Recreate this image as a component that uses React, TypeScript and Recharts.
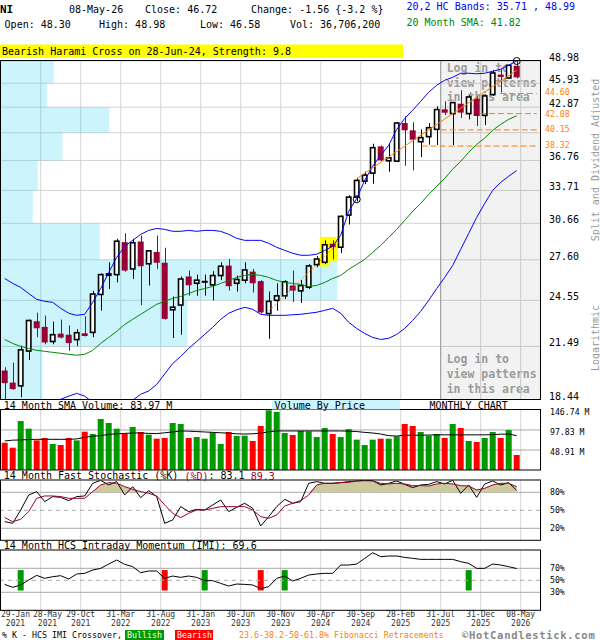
import React from 'react';
import {
  ComposedChart, Bar, Line, Area, XAxis, YAxis, CartesianGrid,
  ReferenceArea, ReferenceLine, ReferenceDot, Cell,
} from 'recharts';

const FONT = '"DejaVu Sans Mono", "Liberation Mono", monospace';

// ---------------- data (monthly, Jan 2021 .. May 2026) ----------------
const opens = [20.05, 19.36, 19.18, 21.21, 23.11, 22.74, 21.80, 22.30, 22.23, 21.92, 22.32, 22.38, 24.97, 26.39, 26.44, 29.04, 26.88, 29.09, 27.28, 28.23, 27.36, 23.89, 24.22, 26.30, 25.79, 25.90, 25.67, 26.37, 27.14, 25.79, 26.02, 26.67, 25.95, 23.63, 24.55, 24.87, 25.62, 25.23, 25.50, 27.21, 27.40, 28.90, 28.62, 31.40, 33.07, 34.63, 35.44, 38.28, 36.72, 36.69, 40.95, 40.10, 38.80, 39.37, 40.21, 42.60, 42.08, 43.30, 42.08, 43.93, 41.86, 44.46, 47.10, 46.64, 48.30];
const highs = [20.24, 20.51, 21.54, 23.22, 23.69, 23.49, 23.09, 23.22, 22.83, 22.59, 23.45, 25.23, 26.54, 27.40, 29.32, 29.79, 29.32, 29.60, 28.36, 29.60, 28.57, 24.82, 26.30, 26.75, 26.44, 26.44, 26.70, 27.40, 27.65, 26.37, 27.40, 26.88, 26.02, 25.18, 25.79, 26.02, 26.75, 26.02, 27.26, 27.89, 29.19, 29.19, 31.37, 33.26, 34.93, 35.59, 38.58, 38.39, 38.63, 41.05, 41.75, 41.05, 40.21, 40.95, 42.98, 43.60, 43.50, 45.02, 44.37, 44.28, 44.46, 47.69, 47.82, 48.48, 48.98];
const lows = [18.40, 18.96, 18.56, 20.66, 22.07, 21.63, 21.63, 22.00, 21.22, 21.52, 22.12, 22.07, 23.83, 25.37, 25.86, 26.67, 26.11, 24.22, 25.62, 26.88, 23.22, 22.02, 22.23, 24.88, 24.88, 24.88, 24.55, 26.02, 25.25, 25.18, 25.79, 25.11, 23.63, 21.97, 23.83, 24.64, 24.43, 24.37, 25.37, 27.01, 27.26, 27.63, 28.13, 30.56, 32.66, 34.33, 34.37, 36.68, 35.59, 36.58, 36.20, 35.72, 37.12, 38.47, 38.43, 41.90, 38.43, 41.56, 41.39, 40.60, 40.70, 44.28, 44.72, 46.56, 46.58];
const closes = [19.33, 19.00, 21.28, 23.16, 22.65, 21.74, 22.23, 22.05, 21.70, 22.36, 22.15, 25.00, 26.44, 26.50, 29.12, 26.75, 28.99, 27.09, 28.32, 27.36, 23.27, 24.07, 26.11, 25.64, 26.02, 25.90, 26.37, 27.09, 25.57, 26.07, 26.80, 25.79, 23.71, 24.48, 24.87, 25.90, 25.25, 25.62, 27.11, 27.66, 28.82, 28.62, 31.28, 33.07, 34.70, 35.24, 38.14, 36.77, 37.04, 40.95, 40.10, 39.03, 39.26, 40.40, 42.57, 42.19, 43.44, 42.20, 44.15, 41.79, 44.28, 47.32, 46.77, 48.38, 46.72];
const volumes = [66.8, 54.6, 119.8, 101.1, 72.5, 78.2, 63.6, 61.1, 78.2, 72.5, 93.7, 88.0, 124.7, 114.9, 101.1, 88.8, 105.1, 92.9, 86.4, 76.6, 78.2, 114.9, 112.5, 78.2, 80.7, 76.6, 91.3, 63.6, 92.9, 83.1, 83.9, 70.9, 107.6, 146.0, 141.8, 90.5, 85.6, 95.4, 94.5, 80.7, 102.7, 88.0, 80.7, 100.2, 74.2, 61.1, 74.2, 76.6, 76.6, 82.3, 112.5, 107.6, 92.9, 83.9, 88.0, 78.2, 112.5, 102.7, 70.9, 68.5, 78.2, 92.9, 78.2, 97.8, 36.7];
const volSma14 = [71, 73, 73.5, 74.5, 75, 75, 75, 75, 75, 76, 80, 82.5, 84, 87, 88.5, 89.5, 90.5, 90.5, 89.5, 89, 91, 93, 95.5, 95, 94, 93, 92, 91, 90, 88.5, 88, 88.5, 90, 93.5, 95.5, 95.5, 95.5, 95.5, 95.5, 95.5, 95.5, 95.5, 95.5, 95, 94, 92, 90.5, 88, 84, 83, 85, 85, 85, 85.5, 86, 86, 86, 86, 86, 86, 86, 86.5, 87.5, 88, 84];
const bbUpper = [26.15, 25.78, 25.48, 25.04, 24.62, 24.48, 24.41, 23.99, 23.65, 23.51, 23.58, 24.41, 25.40, 26.60, 27.79, 28.69, 29.19, 29.70, 30.04, 30.21, 30.13, 29.96, 29.96, 30.04, 29.96, 30.04, 30.04, 29.96, 29.70, 29.36, 29.19, 29.19, 29.19, 28.94, 28.61, 28.36, 28.12, 27.96, 27.96, 28.04, 28.36, 28.69, 29.62, 31.74, 32.95, 34.71, 36.15, 37.30, 38.40, 40.20, 41.50, 42.50, 43.60, 44.75, 45.67, 46.33, 46.73, 47.28, 47.28, 47.21, 47.28, 47.55, 47.83, 48.38, 48.99];
const bbLower = [17.5, 17.3, 17.2, 17.4, 17.8, 18.1, 18.3, 18.45, 18.62, 18.77, 18.62, 18.3, 17.8, 17.5, 17.5, 17.9, 18.4, 18.72, 18.9, 19.26, 19.85, 20.46, 20.88, 21.37, 21.8, 22.25, 22.71, 23.24, 23.65, 23.89, 24.06, 23.92, 23.58, 23.51, 23.51, 23.51, 23.55, 23.58, 23.65, 23.72, 23.85, 23.99, 23.65, 23.04, 22.64, 22.31, 22.06, 21.93, 22.00, 22.25, 22.64, 23.17, 23.78, 24.55, 25.40, 26.23, 27.15, 28.44, 29.78, 31.19, 32.47, 33.72, 34.51, 35.12, 35.71];
const sma20 = [21.93, 21.68, 21.49, 21.37, 21.25, 21.19, 21.13, 21.07, 21.01, 20.95, 21.01, 21.25, 21.68, 22.06, 22.45, 22.90, 23.24, 23.58, 23.92, 24.27, 24.48, 24.69, 24.83, 25.04, 25.26, 25.40, 25.55, 25.78, 26.00, 26.23, 26.38, 26.46, 26.38, 26.23, 26.00, 25.85, 25.78, 25.70, 25.55, 25.63, 25.85, 26.15, 26.38, 26.85, 27.23, 27.63, 28.19, 28.77, 29.44, 30.13, 30.92, 31.74, 32.47, 33.33, 34.11, 34.91, 35.83, 36.66, 37.63, 38.51, 39.21, 40.10, 40.80, 41.39, 41.82];
const stochK = [31.1, 28.3, 50.5, 75.5, 81.1, 64.4, 72.8, 71.6, 66.1, 72.8, 73.9, 95.0, 100, 92.2, 97.8, 75.5, 89.4, 71.1, 82.8, 72.8, 28.3, 33.9, 56.1, 47.8, 51.6, 50.5, 58.9, 67.2, 47.8, 55.0, 61.7, 53.3, 23.9, 39.4, 56.1, 68.3, 61.7, 64.4, 95.0, 97.8, 95.0, 95.0, 96.1, 97.8, 98.9, 100, 99.4, 92.2, 95.0, 98.9, 93.3, 87.8, 92.2, 93.3, 97.8, 93.9, 100, 78.3, 92.2, 71.6, 93.9, 98.9, 92.2, 96.1, 83.1];
const stochD = [37.8, 31.1, 35.0, 47.8, 70.0, 73.9, 73.9, 72.8, 70.0, 70.0, 70.0, 81.1, 92.2, 96.1, 95.0, 89.4, 85.0, 81.1, 78.3, 73.9, 58.9, 45.0, 37.8, 45.0, 50.5, 50.5, 53.3, 56.1, 56.1, 56.1, 56.1, 50.5, 39.4, 36.6, 42.2, 57.2, 61.7, 66.1, 75.5, 92.2, 95.0, 95.0, 96.1, 96.6, 98.9, 99.4, 98.9, 95.0, 93.9, 95.0, 93.9, 91.1, 91.1, 90.5, 93.9, 95.0, 93.9, 91.1, 90.5, 83.9, 86.7, 92.2, 95.0, 95.0, 89.3];
const imiValues = [43.2, 38.3, 42.2, 50.5, 58.2, 53.3, 56.0, 57.7, 52.1, 60.5, 61.6, 67.1, 69.9, 77.1, 83.8, 76.6, 72.7, 62.7, 65.5, 65.5, 53.3, 57.1, 54.9, 57.1, 54.9, 49.4, 49.4, 44.9, 40.5, 43.8, 43.2, 42.2, 36.0, 39.4, 53.3, 57.1, 48.8, 53.3, 58.8, 60.5, 61.6, 61.6, 75.5, 75.5, 77.1, 86.6, 96.0, 89.4, 90.5, 90.5, 88.2, 86.6, 84.9, 84.9, 84.9, 84.9, 84.9, 81.0, 78.2, 69.9, 69.9, 77.1, 75.5, 72.7, 69.6];

const priceTicks = [18.44, 21.49, 24.55, 27.60, 30.66, 33.71, 36.76, 39.82, 42.87, 45.93, 48.98];
const vbpVolume = [7.7, 34.6, 62.4, 18.3, 5.9, 6.8, 11.4, 20.1, 8.5, 9.8]; // % of panel width per price band, bottom -> top
const fibLevels = [44.60, 42.08, 40.15, 38.32];
const fibStart = [61.9, 59.4, 54.5, 52.1];
const fibEnd = 66.5;
const volTicks = [48.91, 97.83, 146.74];
const stochTicks = [20, 50, 80];
const imiTicks = [30, 50, 70];
const dateLabels = [
  { idx: 0, d: '29-Jan', y: '2021' }, { idx: 4, d: '28-May', y: '2021' }, { idx: 9, d: '29-Oct', y: '2021' },
  { idx: 14, d: '31-Mar', y: '2022' }, { idx: 19, d: '31-Aug', y: '2022' }, { idx: 24, d: '31-Jan', y: '2023' },
  { idx: 29, d: '30-Jun', y: '2023' }, { idx: 34, d: '30-Nov', y: '2023' }, { idx: 39, d: '30-Apr', y: '2024' },
  { idx: 44, d: '30-Sep', y: '2024' }, { idx: 49, d: '28-Feb', y: '2025' }, { idx: 54, d: '31-Jul', y: '2025' },
  { idx: 59, d: '31-Dec', y: '2025' }, { idx: 64, d: '08-May', y: '2026' },
];
const imiSignals = [
  { idx: 2, kind: 'bull' }, { idx: 20, kind: 'bear' }, { idx: 25, kind: 'bull' },
  { idx: 32, kind: 'bear' }, { idx: 35, kind: 'bull' }, { idx: 58, kind: 'bull' },
];
const patternCandles = [40, 41];
const trendLines = [
  { from: 33, fromPrice: 23.78, to: 42, toPrice: 29.15, dash: '2 2' },
  { from: 44, fromPrice: 34.88, to: 64, toPrice: 47.69, dash: undefined },
];
const pivotMarks = [{ idx: 44, price: 32.86 }, { idx: 64, price: 48.98 }];

// ---------------- styling constants ----------------
const X_DOMAIN: [number, number] = [-0.4625, 66.9125];
const RED_CANDLE = '#990033';
const GREEN = '#009900';
const RED = '#ff0000';
const KHAKI = '#cdca9e';
const ORANGE = '#ff8000';
const SIGNAL_SPAN = [33, 67];
const GRID_LIGHT = '#d4d4d4';
const GRID_DARK = '#a8a8a8';
const FIB_LABEL_DY = [-1.5, 0.4, -1.3, -1.3];

const sigMap = new Map(imiSignals.map((s) => [s.idx, s.kind]));
const rows = opens.map((o, i) => ({
  i,
  open: o, high: highs[i], low: lows[i], close: closes[i],
  range: [lows[i], highs[i]],
  up: closes[i] >= o,
  vol: volumes[i], volSma: volSma14[i],
  bbU: bbUpper[i], bbL: bbLower[i], sma: sma20[i],
  k: stochK[i], d: stochD[i], dShade: Math.max(stochD[i], 80),
  imi: imiValues[i],
  sig: sigMap.has(i) ? SIGNAL_SPAN : null,
  sigKind: sigMap.get(i) || null,
}));

const vGridIdx = dateLabels.slice(1).map((d) => d.idx + 0.5);
const dateTicks = dateLabels.map((d) => d.idx + 0.5);
const loginStart = dateLabels[11].idx + 0.5;
const xSpan = X_DOMAIN[1] - X_DOMAIN[0];
const vbpToX = (pct: number) => X_DOMAIN[0] + (pct / 100) * xSpan;

const mainAxisTicks = priceTicks
  .filter((t) => !fibLevels.some((f) => Math.abs(Math.log(t / f)) < 0.012))
  .concat(fibLevels);

// ---------------- shapes & ticks ----------------
const Candle = (props: any) => {
  const { x, y, width, height, payload } = props;
  if (!payload || x == null || y == null || !isFinite(height)) return <g />;
  const top = Math.min(y, y + height);
  const h = Math.abs(height);
  const lh = Math.log(payload.high);
  const ll = Math.log(payload.low);
  const py = (v: number) => top + (h * (lh - Math.log(v))) / (lh - ll);
  const cx = Math.round(x + width / 2) + 0.5;
  const bodyTop = py(Math.max(payload.open, payload.close));
  const bodyBot = py(Math.min(payload.open, payload.close));
  if (payload.open === payload.close) {
    return (
      <g>
        <line x1={cx} x2={cx} y1={top} y2={top + h} stroke="#000" strokeWidth={1} />
        <rect x={x} y={bodyTop - 1} width={width} height={2} fill="#000" />
      </g>
    );
  }
  if (payload.up) {
    return (
      <g>
        <line x1={cx} x2={cx} y1={top} y2={bodyTop} stroke="#000" strokeWidth={1} />
        <line x1={cx} x2={cx} y1={bodyBot} y2={top + h} stroke="#000" strokeWidth={1} />
        <rect x={x + 0.8} y={bodyTop} width={width - 1.6} height={Math.max(bodyBot - bodyTop, 0.6)} fill="#fff" stroke="#000" strokeWidth={1.6} />
      </g>
    );
  }
  return (
    <g>
      <line x1={cx} x2={cx} y1={top} y2={top + h} stroke={RED_CANDLE} strokeWidth={1} />
      <rect x={x} y={bodyTop} width={width} height={Math.max(bodyBot - bodyTop, 1.2)} fill={RED_CANDLE} />
    </g>
  );
};

const SignalBar = (p: any) => {
  if (!p || !p.payload || !p.payload.sigKind || p.y == null) return <g />;
  return (
    <rect x={p.x} y={Math.min(p.y, p.y + p.height)} width={p.width} height={Math.abs(p.height)}
      fill={p.payload.sigKind === 'bull' ? GREEN : RED} />
  );
};

const PriceTick = (p: any) => {
  const v = p.payload && p.payload.value;
  if (v == null) return <g />;
  const fk = fibLevels.indexOf(v);
  if (fk >= 0) {
    return <text x={545} y={p.y + FIB_LABEL_DY[fk]} fontSize={8.2} fill={ORANGE} fontFamily={FONT} dominantBaseline="central">{v.toFixed(2)}</text>;
  }
  return <text x={549} y={p.y - 3.5} fontSize={10} fill="#000" fontFamily={FONT} dominantBaseline="central">{v.toFixed(2)}</text>;
};

const VolTick = (p: any) => {
  const v = p.payload && p.payload.value;
  if (v == null) return <g />;
  return <text x={550} y={p.y + 1.7} fontSize={8.2} fill="#000" fontFamily={FONT} dominantBaseline="central">{`${v.toFixed(2)} M`}</text>;
};

const PctTick = (p: any) => {
  const v = p.payload && p.payload.value;
  if (v == null) return <g />;
  return <text x={550} y={p.y} fontSize={8.2} fill="#000" fontFamily={FONT} dominantBaseline="central">{`${v}%`}</text>;
};

const DateTick = (p: any) => {
  const v = p.payload && p.payload.value;
  const k = dateLabels.findIndex((d) => d.idx + 0.5 === v);
  if (k < 0) return <g />;
  const cx = Math.max(p.x, 15.5 + 32 * k);
  return (
    <g fontFamily={FONT} fontSize={8} fill="#333">
      <text x={cx} y={69} textAnchor="middle" dominantBaseline="central">{dateLabels[k].d}</text>
      <text x={cx} y={78.5} textAnchor="middle" dominantBaseline="central">{dateLabels[k].y}</text>
    </g>
  );
};

// ---------------- charts ----------------
function MainChart() {
  return (
    <ComposedChart width={600} height={400} data={rows} margin={{ top: 61, right: 0, bottom: 0.5, left: 1 }}>
      <CartesianGrid stroke={GRID_LIGHT} horizontalValues={priceTicks} verticalValues={vGridIdx} />
      <XAxis dataKey="i" type="number" domain={X_DOMAIN} hide allowDataOverflow />
      <YAxis orientation="right" width={60} scale="log" type="number"
        domain={[priceTicks[0], priceTicks[priceTicks.length - 1]]} allowDataOverflow
        ticks={mainAxisTicks} interval={0} tick={<PriceTick />} axisLine={false} tickLine={false} />
      {vbpVolume.map((v, b) => (
        <ReferenceArea key={'vbp' + b} x1={X_DOMAIN[0]} x2={vbpToX(v)} y1={priceTicks[b]} y2={priceTicks[b + 1]}
          fill="rgb(0,200,240)" fillOpacity={0.2} stroke="none" />
      ))}
      <ReferenceArea x1={loginStart} x2={X_DOMAIN[1]} fill="#000" fillOpacity={0.05} stroke="none" />
      <ReferenceLine x={loginStart} stroke="#999" />
      {patternCandles.map((ci) => (
        <ReferenceArea key={'pat' + ci} x1={ci - 0.62} x2={ci + 0.62} y1={lows[ci] * 0.993} y2={highs[ci] * 1.01}
          fill="#ffff00" fillOpacity={1} stroke="none" />
      ))}
      <Bar dataKey="range" barSize={6} shape={<Candle />} isAnimationActive={false} />
      <Line dataKey="bbU" stroke="#0000ff" strokeWidth={1} dot={false} activeDot={false} isAnimationActive={false} />
      <Line dataKey="bbL" stroke="#0000ff" strokeWidth={1} dot={false} activeDot={false} isAnimationActive={false} />
      <Line dataKey="sma" stroke="#008800" strokeWidth={1} dot={false} activeDot={false} isAnimationActive={false} />
      {fibLevels.map((f, k) => (
        <ReferenceLine key={'fib' + k} segment={[{ x: fibStart[k], y: f }, { x: fibEnd, y: f }]}
          stroke={ORANGE} strokeDasharray="6 3" ifOverflow="visible" />
      ))}
      {trendLines.map((t, k) => (
        <ReferenceLine key={'tl' + k} segment={[{ x: t.from, y: t.fromPrice }, { x: t.to, y: t.toPrice }]}
          stroke={ORANGE} strokeDasharray={t.dash} ifOverflow="visible" />
      ))}
      {pivotMarks.map((p, k) => (
        <ReferenceDot key={'pv' + k} x={p.idx} y={p.price} r={3.5} fill="none" stroke="#000" ifOverflow="visible" />
      ))}
    </ComposedChart>
  );
}

function VolumeChart() {
  return (
    <ComposedChart width={600} height={75} data={rows} margin={{ top: 10, right: 0, bottom: 5, left: 1 }}>
      <CartesianGrid stroke={GRID_LIGHT} horizontal={false} verticalValues={vGridIdx} />
      <CartesianGrid stroke={GRID_DARK} vertical={false} horizontalValues={volTicks.slice(0, 2)} />
      <XAxis dataKey="i" type="number" domain={X_DOMAIN} hide allowDataOverflow />
      <YAxis orientation="right" width={60} type="number" domain={[0, volTicks[2]]} allowDataOverflow
        ticks={volTicks} interval={0} tick={<VolTick />} axisLine={false} tickLine={false} />
      <Bar dataKey="vol" barSize={6} isAnimationActive={false}>
        {rows.map((r) => <Cell key={r.i} fill={r.up ? GREEN : RED} />)}
      </Bar>
      <Line dataKey="volSma" stroke="#000" strokeWidth={1} dot={false} activeDot={false} isAnimationActive={false} />
    </ComposedChart>
  );
}

function StochChart() {
  return (
    <ComposedChart width={600} height={75} data={rows} margin={{ top: 10.3, right: 0, bottom: 4.7, left: 1 }}>
      <CartesianGrid stroke={GRID_LIGHT} horizontal={false} verticalValues={vGridIdx} />
      <CartesianGrid stroke={GRID_DARK} vertical={false} horizontalValues={[stochTicks[0], stochTicks[2]]} />
      <XAxis dataKey="i" type="number" domain={X_DOMAIN} hide allowDataOverflow />
      <YAxis orientation="right" width={60} type="number" domain={[0, 100]} allowDataOverflow
        ticks={stochTicks} interval={0} tick={<PctTick />} axisLine={false} tickLine={false} />
      <ReferenceLine y={stochTicks[1]} stroke={GRID_DARK} strokeDasharray="4 4" />
      <Area dataKey="dShade" baseValue={80} type="linear" stroke="none" fill={KHAKI} fillOpacity={1}
        dot={false} activeDot={false} isAnimationActive={false} />
      <Line dataKey="k" stroke="#000" strokeWidth={1} dot={false} activeDot={false} isAnimationActive={false} />
      <Line dataKey="d" stroke={RED_CANDLE} strokeWidth={1} dot={false} activeDot={false} isAnimationActive={false} />
    </ComposedChart>
  );
}

function ImiChart() {
  return (
    <ComposedChart width={600} height={95} data={rows} margin={{ top: 5.3, right: 0, bottom: 0, left: 1 }}>
      <CartesianGrid stroke={GRID_LIGHT} horizontal={false} verticalValues={vGridIdx} />
      <CartesianGrid stroke={GRID_DARK} vertical={false} horizontalValues={[imiTicks[0], imiTicks[2]]} />
      <XAxis dataKey="i" type="number" domain={X_DOMAIN} allowDataOverflow height={29.7}
        ticks={dateTicks} interval={0} tick={<DateTick />} axisLine={false} tickLine={false} />
      <YAxis orientation="right" width={60} type="number" domain={[0, 100]} allowDataOverflow
        ticks={imiTicks} interval={0} tick={<PctTick />} axisLine={false} tickLine={false} />
      <ReferenceLine y={imiTicks[1]} stroke={GRID_DARK} strokeDasharray="4 4" />
      <Bar dataKey="sig" barSize={6} shape={<SignalBar />} isAnimationActive={false} />
      <Line dataKey="imi" stroke="#000" strokeWidth={1} dot={false} activeDot={false} isAnimationActive={false} />
    </ComposedChart>
  );
}

const T = (props: any) => <text dominantBaseline="central" fontSize={10} fill="#000" {...props} />;

export default function App() {
  return (
    <div style={{ position: 'absolute', left: 0, top: 0, width: 600, height: 640, background: '#fff', overflow: 'hidden', fontFamily: FONT }}>
      {/* underlay: watermark text inside the locked area */}
      <svg width={600} height={640} style={{ position: 'absolute', left: 0, top: 0 }} fontFamily={FONT}>
        <g fontSize={11.5} fontWeight="bold" fill="#a4a4a4">
          <text x={446.7} y={71.7}>
            <tspan x={446.7} dy={0}>Log in to</tspan>
            <tspan x={446.7} dy={15}>view patterns</tspan>
            <tspan x={446.7} dy={14.6}>in this area</tspan>
          </text>
          <text x={446.7} y={363}>
            <tspan x={446.7} dy={0}>Log in to</tspan>
            <tspan x={446.7} dy={15}>view patterns</tspan>
            <tspan x={446.7} dy={15}>in this area</tspan>
          </text>
        </g>
      </svg>
      <div style={{ position: 'absolute', left: 0, top: 0 }}><MainChart /></div>
      <div style={{ position: 'absolute', left: 0, top: 400 }}><VolumeChart /></div>
      <div style={{ position: 'absolute', left: 0, top: 470 }}><StochChart /></div>
      <div style={{ position: 'absolute', left: 0, top: 545 }}><ImiChart /></div>
      {/* overlay: headers, frames, legends */}
      <svg width={600} height={640} style={{ position: 'absolute', left: 0, top: 0, pointerEvents: 'none' }} fontFamily={FONT}>
        <T x={0} y={9.3} fontSize={11} fontWeight="bold">NI</T>
        <T x={69} y={9.3}>08-May-26</T>
        <T x={145} y={9.3}>Close: 46.72</T>
        <T x={251} y={9.3}>{'Change: -1.56 {-3.2 %}'}</T>
        <T x={406.5} y={6.7} fill="#0000ff">20,2 HC Bands: 35.71 , 48.99</T>
        <T x={4.6} y={24}>Open: 48.30</T>
        <T x={99} y={24}>High: 48.98</T>
        <T x={200} y={24}>Low: 46.58</T>
        <T x={290} y={24}>Vol: 36,706,200</T>
        <T x={406.5} y={22.3} fill="#008800">20 Month SMA: 41.82</T>
        <rect x={0} y={44.5} width={403} height={13.5} fill="#ffff00" />
        <T x={2} y={51.3}>Bearish Harami Cross on 28-Jun-24, Strength: 9.8</T>

        <text transform="translate(595,160) rotate(-90)" textAnchor="middle" dominantBaseline="central" fontSize={10} fill="#999">Split and Dividend Adjusted</text>
        <text transform="translate(595,338) rotate(-90)" textAnchor="middle" dominantBaseline="central" fontSize={10} fill="#999">Logarithmic</text>

        <rect x={0.5} y={60.5} width={540} height={339} fill="none" stroke="#000" />
        <rect x={0.5} y={409.5} width={540} height={60.5} fill="none" stroke="#000" />
        <rect x={0.5} y={480} width={540} height={60.3} fill="none" stroke="#000" />
        <rect x={0.5} y={550} width={540} height={60.3} fill="none" stroke="#000" />

        <T x={3.8} y={405.3}>14 Month SMA Volume: 83.97 M</T>
        <rect x={272} y={400} width={128} height={9.5} fill="#ccf4fc" />
        <T x={274.6} y={405.3}>Volume By Price</T>
        <T x={429.5} y={405.3}>MONTHLY CHART</T>

        <text x={3.8} y={475.5} dominantBaseline="central" fontSize={10} fill="#000">
          14 Month Fast Stochastic (%K) <tspan fill={RED_CANDLE}>(%D)</tspan>: 83.1  <tspan fill={RED_CANDLE}>89.3</tspan>
        </text>
        <T x={3.8} y={545.5}>14 Month HCS Intraday Momentum (IMI): 69.6</T>

        <g fontSize={8.3}>
          <T x={2} y={635} fontSize={8.3}>% K - HCS IMI Crossover,</T>
          <rect x={125} y={630} width={39} height={10} fill={GREEN} />
          <T x={127} y={635} fontSize={8.3} fill="#fff">Bullish</T>
          <rect x={175} y={630} width={38} height={10} fill={RED} />
          <T x={177} y={635} fontSize={8.3} fill="#fff">Bearish</T>
          <T x={239} y={635} fontSize={8.3} fill={ORANGE}>23.6-38.2-50-61.8% Fibonacci Retracements</T>
        </g>
        <T x={462} y={634.6} fontSize={10.5} fontWeight="bold" fill="#888" letterSpacing={0.7}>©HotCandlestick.com</T>
      </svg>
    </div>
  );
}
